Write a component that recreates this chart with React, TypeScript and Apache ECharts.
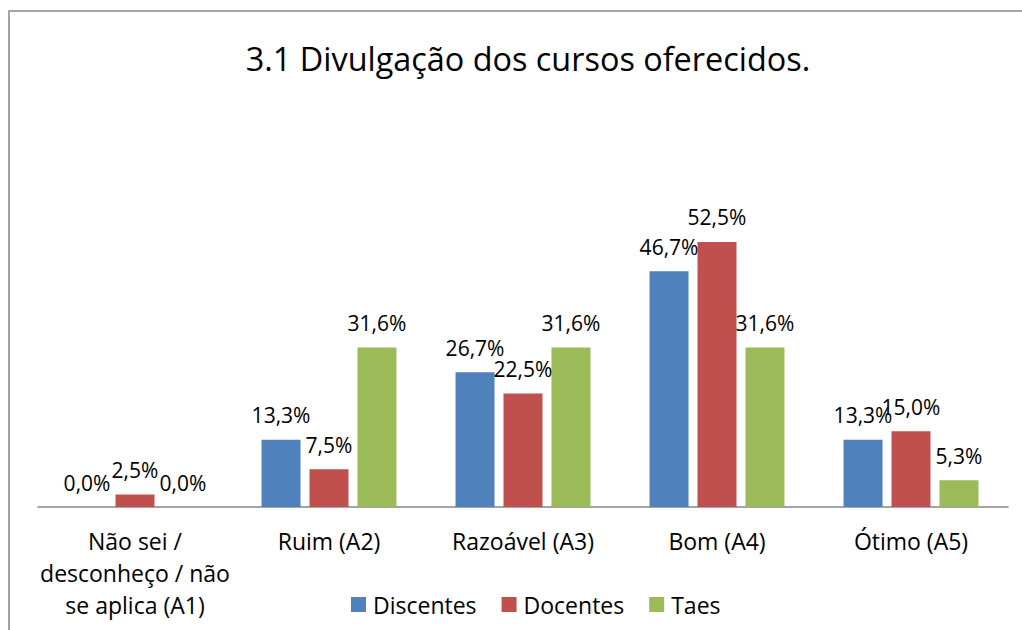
import React, { useEffect, useRef } from "react";
import * as echarts from "echarts";

const titleText = "3.1 Divulgação dos cursos oferecidos.";
const categories = [
  "Não sei /\ndesconheço / não\nse aplica (A1)",
  "Ruim (A2)",
  "Razoável (A3)",
  "Bom (A4)",
  "Ótimo (A5)",
];
const discentes = [0.0, 13.3, 26.7, 46.7, 13.3];
const docentes = [2.5, 7.5, 22.5, 52.5, 15.0];
const taes = [0.0, 31.6, 31.6, 31.6, 5.3];
const seriesNames = ["Discentes", "Docentes", "Taes"];
const colors = ["#4F81BD", "#C0504D", "#9BBB59"];

const FONT = "'Open Sans', 'Noto Sans', sans-serif";

export default function App() {
  const ref = useRef<HTMLDivElement>(null);
  useEffect(() => {
    document.body.style.margin = "0";
    if (!ref.current) return;
    const chart = echarts.init(ref.current, null, { renderer: "svg" });
    const fmt = (p: any) => Number(p.value).toFixed(1).replace(".", ",") + "%";
    const mk = (name: string, data: number[], color: string) => ({
      name,
      type: "bar",
      data,
      barWidth: 39,
      barGap: "23%",
      itemStyle: { color },
      label: {
        show: true,
        position: "top",
        distance: 14,
        formatter: fmt,
        fontFamily: FONT,
        fontSize: 21,
        lineHeight: 21,
        color: "#000",
      },
    });
    chart.setOption({
      animation: false,
      backgroundColor: "#fff",
      title: {
        text: titleText,
        left: 523,
        textAlign: "center",
        top: 37,
        textStyle: {
          fontFamily: FONT,
          fontSize: 32.4,
          fontWeight: "normal",
          color: "#000",
        },
      },
      graphic: [
        {
          type: "rect",
          shape: { x: 9, y: 11, width: 1030, height: 640 },
          style: { fill: "none", stroke: "#868686", lineWidth: 1.5 },
          silent: true,
        },
      ],
      legend: {
        data: seriesNames,
        left: 346,
        top: 588,
        itemWidth: 15,
        itemHeight: 15,
        itemGap: 25,
        icon: "rect",
        textStyle: {
          fontFamily: FONT,
          fontSize: 23,
          color: "#000",
          padding: [0, 0, 0, 2],
        },
      },
      grid: { left: 38, right: 14, top: 204, bottom: 123, containLabel: false },
      xAxis: {
        type: "category",
        data: categories,
        axisLine: { show: true, lineStyle: { color: "#868686", width: 1.5 } },
        axisTick: { show: false },
        axisLabel: {
          interval: 0,
          margin: 18,
          fontFamily: FONT,
          fontSize: 23,
          lineHeight: 32,
          color: "#000",
        },
      },
      yAxis: {
        type: "value",
        min: 0,
        max: 60,
        show: false,
        splitLine: { show: false },
      },
      series: [
        mk(seriesNames[0], discentes, colors[0]),
        mk(seriesNames[1], docentes, colors[1]),
        mk(seriesNames[2], taes, colors[2]),
      ],
    });
    return () => chart.dispose();
  }, []);
  return <div ref={ref} style={{ width: 1022, height: 630 }} />;
}
